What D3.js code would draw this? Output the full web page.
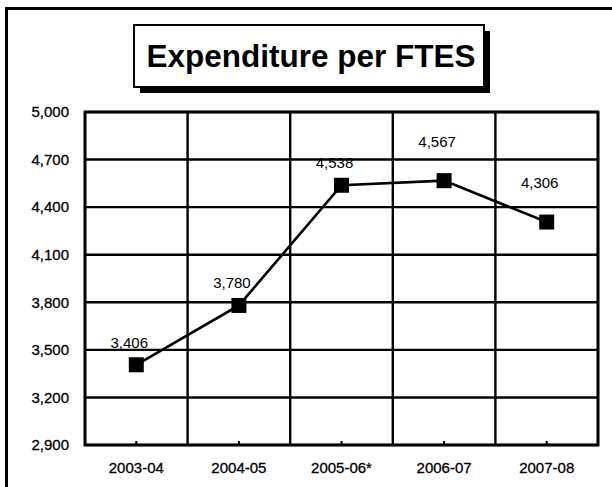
<!DOCTYPE html>
<html>
<head>
<meta charset="utf-8">
<script src="https://cdn.jsdelivr.net/npm/d3@7"></script>
<style>
  html, body { margin: 0; padding: 0; background: #fff; }
  svg { display: block; }
  text { font-family: "Liberation Sans", Arial, sans-serif; fill: #000; }
</style>
</head>
<body>
<svg id="chart" width="612" height="487"></svg>
<script>
// Fiscal years and expenditure per full-time equivalent student
const years = ["2003-04", "2004-05", "2005-06*", "2006-07", "2007-08"];
const expenditure = [3406, 3780, 4538, 4567, 4306];
const yTicks = [2900, 3200, 3500, 3800, 4100, 4400, 4700, 5000];
const title = "Expenditure per FTES";

const svg = d3.select("#chart");
const plot = { left: 85, right: 598, top: 112, bottom: 445 };

const x = d3.scaleBand().domain(years).range([plot.left, plot.right]);
const y = d3.scaleLinear().domain([2900, 5000]).range([plot.bottom, plot.top]);

// Outer page frame (runs off the right and bottom edges)
svg.append("rect")
  .attr("x", 6.5).attr("y", 8.5)
  .attr("width", 700).attr("height", 600)
  .attr("fill", "none").attr("stroke", "#000").attr("stroke-width", 3);

// Title box with drop shadow
const tb = { x: 134, y: 25, w: 350, h: 62 };
svg.append("rect")
  .attr("x", tb.x + 6).attr("y", tb.y + 6)
  .attr("width", tb.w).attr("height", tb.h)
  .attr("fill", "#000");
svg.append("rect")
  .attr("x", tb.x).attr("y", tb.y)
  .attr("width", tb.w).attr("height", tb.h)
  .attr("fill", "#fff").attr("stroke", "#000").attr("stroke-width", 2);
svg.append("text")
  .attr("x", tb.x + tb.w / 2 + 2).attr("y", tb.y + tb.h / 2 + 11)
  .attr("text-anchor", "middle")
  .attr("font-size", 31.5).attr("font-weight", "bold")
  .text(title);

// Horizontal gridlines
svg.append("g").selectAll("line").data(yTicks).join("line")
  .attr("x1", plot.left).attr("x2", plot.right)
  .attr("y1", d => y(d)).attr("y2", d => y(d))
  .attr("stroke", "#000").attr("stroke-width", 2.4);

// Vertical gridlines at category boundaries
const bounds = years.map(d => x(d)).concat([plot.right]);
svg.append("g").selectAll("line").data(bounds).join("line")
  .attr("x1", d => d).attr("x2", d => d)
  .attr("y1", plot.top).attr("y2", plot.bottom)
  .attr("stroke", "#000").attr("stroke-width", 2.4);

// Plot border
svg.append("rect")
  .attr("x", plot.left).attr("y", plot.top)
  .attr("width", plot.right - plot.left).attr("height", plot.bottom - plot.top)
  .attr("fill", "none").attr("stroke", "#000").attr("stroke-width", 2.8);

// Y axis labels
const yAxis = d3.axisLeft(y).tickValues(yTicks).tickSize(0).tickPadding(16)
  .tickFormat(d3.format(","));
svg.append("g").attr("transform", `translate(${plot.left},0)`).call(yAxis)
  .call(g => g.select(".domain").remove())
  .call(g => g.selectAll("text").attr("font-size", 15)
    .attr("stroke", "#000").attr("stroke-width", 0.3)
    .attr("font-family", "Liberation Sans, Arial, sans-serif"));

// X axis labels with small inward ticks
const xAxis = d3.axisBottom(x).tickSize(-4).tickPadding(17);
svg.append("g").attr("transform", `translate(0,${plot.bottom})`).call(xAxis)
  .call(g => g.select(".domain").remove())
  .call(g => g.selectAll(".tick line").attr("stroke", "#000").attr("stroke-width", 2))
  .call(g => g.selectAll("text").attr("font-size", 15)
    .attr("stroke", "#000").attr("stroke-width", 0.3)
    .attr("font-family", "Liberation Sans, Arial, sans-serif"));

const cx = d => x(d) + x.bandwidth() / 2;
const pts = years.map((d, i) => ({ year: d, value: expenditure[i] }));

// Series line
svg.append("path")
  .datum(pts)
  .attr("fill", "none").attr("stroke", "#000").attr("stroke-width", 2.6)
  .attr("d", d3.line().x(d => cx(d.year)).y(d => y(d.value)));

// Square markers
const ms = 15;
svg.append("g").selectAll("rect").data(pts).join("rect")
  .attr("x", d => cx(d.year) - ms / 2).attr("y", d => y(d.value) - ms / 2)
  .attr("width", ms).attr("height", ms).attr("fill", "#000");

// Value labels; the last two sit higher to clear the line
svg.append("g").selectAll("text").data(pts).join("text")
  .attr("x", d => cx(d.year) - 7)
  .attr("y", (d, i) => y(d.value) - (i >= 3 ? 34 : 17))
  .attr("text-anchor", "middle")
  .attr("font-size", 15)
  .text(d => d3.format(",")(d.value));
</script>
</body>
</html>
